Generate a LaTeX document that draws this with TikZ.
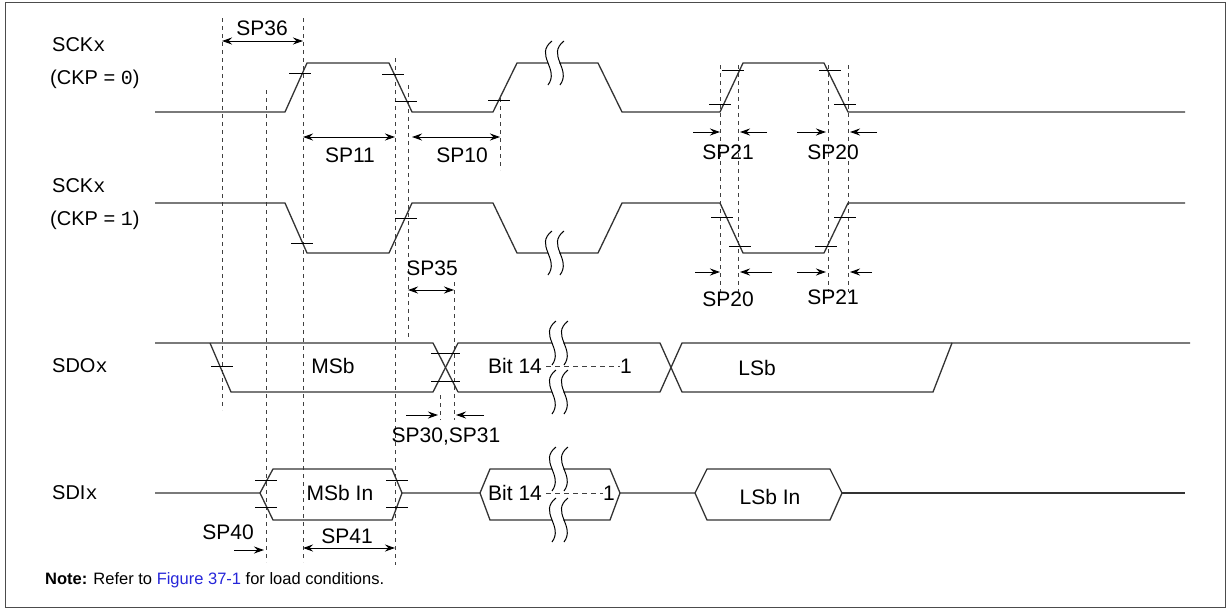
\documentclass[tikz,border=0pt]{standalone}
\usepackage{fontspec}
\setmainfont{Liberation Sans}
\setmonofont{Liberation Mono}
\usetikzlibrary{arrows.meta}
\begin{document}
\begin{tikzpicture}[x=1pt,y=-1pt,
  sig/.style={line width=1.3pt,black!80},
  vdsh/.style={dash pattern=on 4pt off 4pt,line width=0.9pt,black!75},
  tk/.style={line width=1pt},
  ar/.style={line width=1pt,-{Stealth[length=10pt,width=7pt]}},
  dar/.style={line width=1pt,{Stealth[length=10pt,width=7pt]}-{Stealth[length=10pt,width=7pt]}},
  lab/.style={font=\fontsize{21}{24}\selectfont,inner sep=0pt},
  nm/.style={font=\fontsize{20}{24}\selectfont,inner sep=0pt,anchor=west,align=left}]
\useasboundingbox (0,0) rectangle (1232,614);
\draw[line width=1pt,black!70] (5,2) rectangle (1225,607);
\newcommand{\sqg}[2]{%
  \begin{scope}[shift={(#1,#2)}]
  \fill[white] (-4,-22) .. controls (-22,-8) and (4,6) .. (-8,22) -- (4,22) .. controls (-10,6) and (16,-8) .. (8,-22) -- cycle;
  \draw[line width=1pt] (-4,-22) .. controls (-22,-8) and (4,6) .. (-8,22);
  \draw[line width=1pt] (8,-22) .. controls (-10,-8) and (16,6) .. (4,22);
  \end{scope}}
\newcommand{\tick}[2]{\draw[tk] (#1-11,#2) -- (#1+11,#2);}
% labels
\node[nm] (l1) at (52,45) {SCK\texttt{x}};
\node[nm] (l2) at (50,79) {(CKP = \texttt{0})};
\node[nm] (l3) at (52,186) {SCK\texttt{x}};
\node[nm] (l4) at (50,220) {(CKP = \texttt{1})};
\node[nm] (l5) at (52,366) {SDO\texttt{x}};
\node[nm] (l6) at (52,493) {SDI\texttt{x}};
% dashed lines
\draw[vdsh] (222,18) -- (222,410);
\draw[vdsh] (266,90) -- (266,562);
\draw[vdsh] (303,18) -- (303,562);
\draw[vdsh] (395,58) -- (395,565);
\draw[vdsh] (408,85) -- (408,340);
\draw[vdsh] (500,98) -- (500,170);
\draw[vdsh] (454,282) -- (454,420);
\draw[vdsh] (440,395) -- (440,420);
\foreach \x in {720,738,828,848} \draw[vdsh] (\x,65) -- (\x,292);
% SCK CKP=0
\draw[sig] (155,112) -- (285,112) -- (307,63) -- (389,63) -- (412,112) -- (493,112) -- (517,63) -- (598,63) -- (622,112) -- (720,112) -- (743,63) -- (824,63) -- (848,112) -- (1185,112);
\sqg{556}{63}
\tick{300}{73}\tick{393}{74}\tick{406}{101}\tick{499}{100}
\tick{733}{70}\tick{720}{104}\tick{830}{70}\tick{845}{104}
% SCK CKP=1
\draw[sig] (155,203) -- (285,203) -- (307,253) -- (389,253) -- (412,203) -- (493,203) -- (517,253) -- (598,253) -- (622,203) -- (720,203) -- (743,253) -- (824,253) -- (848,203) -- (1185,203);
\sqg{556}{253}
\tick{302}{243}\tick{406}{218}
\tick{722}{217}\tick{740}{246}\tick{826}{246}\tick{845}{217}
% SDO
\draw[sig] (155,343) -- (433,343) -- (458,392);
\draw[sig] (210,343) -- (231,392) -- (433,392) -- (458,343) -- (660,343) -- (682,392) -- (933,392) -- (952,343) -- (1190,343);
\draw[sig] (458,392) -- (660,392) -- (682,343) -- (952,343);
\tick{222}{366}
\draw[tk] (431,353) -- (460,353); \draw[tk] (431,381) -- (460,381);
\sqg{560}{343}\sqg{560}{392}
\node[lab] (msb) at (333,366) {MSb};
\node[lab,anchor=west] (b14) at (488,366) {Bit 14};
\node[lab,anchor=west] (one) at (620,366) {1};
\draw[vdsh,dash pattern=on 5pt off 4pt] (b14.east) ++(4,0) -- (one.west);
\node[lab] (lsb) at (757,368) {LSb};
% SDI
\draw[sig] (155,493) -- (260,493) -- (273,469) -- (392,469) -- (402,493) -- (392,520) -- (273,520) -- (260,493);
\draw[sig] (402,493) -- (480,493) -- (490,469) -- (610,469) -- (620,493) -- (610,520) -- (490,520) -- (480,493);
\draw[sig] (620,493) -- (695,493) -- (707,469) -- (830,469) -- (842,493) -- (830,520) -- (707,520) -- (695,493);
\draw[sig] (842,493) -- (1185,493);
\tick{266}{480}\tick{266}{507}\tick{397}{480}\tick{397}{507}
\sqg{560}{469}\sqg{560}{520}
\node[lab] (msbin) at (340,493) {MSb In};
\node[lab,anchor=west] (b14i) at (488,493) {Bit 14};
\node[lab,anchor=west] (onei) at (603,493) {1};
\draw[vdsh,dash pattern=on 5pt off 4pt] (b14i.east) ++(4,0) -- (onei.west);
\node[lab] (lsbin) at (770,497) {LSb In};
% timing arrows
\draw[dar] (222,41) -- (303,41); \node[lab] (sp36) at (262,28) {SP36};
\draw[dar] (303,137) -- (395,137); \node[lab] (sp11) at (350,155) {SP11};
\draw[dar] (412,137) -- (500,137); \node[lab] (sp10) at (462,155) {SP10};
\draw[ar] (693,132) -- (720,132); \draw[ar] (767,132) -- (740,132); \node[lab] (sp21a) at (728,152) {SP21};
\draw[ar] (797,132) -- (826,132); \draw[ar] (877,132) -- (850,132); \node[lab] (sp20a) at (833,152) {SP20};
\draw[ar] (695,272) -- (720,272); \draw[ar] (772,272) -- (740,272); \node[lab] (sp20b) at (728,299) {SP20};
\draw[ar] (797,272) -- (826,272); \draw[ar] (872,272) -- (850,272); \node[lab] (sp21b) at (833,297) {SP21};
\node[lab] (sp35) at (432,268) {SP35};
\draw[dar] (408,290) -- (454,290);
\draw[ar] (406,415) -- (438,415); \draw[ar] (484,415) -- (456,415);
\node[lab] (sp3031) at (446,437) {SP30,SP31};
\draw[ar] (234,550) -- (264,550); \node[lab] (sp40) at (228,532) {SP40};
\draw[dar] (303,548) -- (395,548); \node[lab] (sp41) at (347,536) {SP41};
% note
\node[anchor=west,inner sep=0pt,font=\fontsize{16.5}{19}\selectfont] (note) at (45,580) {\textbf{Note:} Refer to \textcolor[rgb]{0.15,0.15,0.85}{Figure 37-1} for load conditions.};
\end{tikzpicture}
\end{document}
